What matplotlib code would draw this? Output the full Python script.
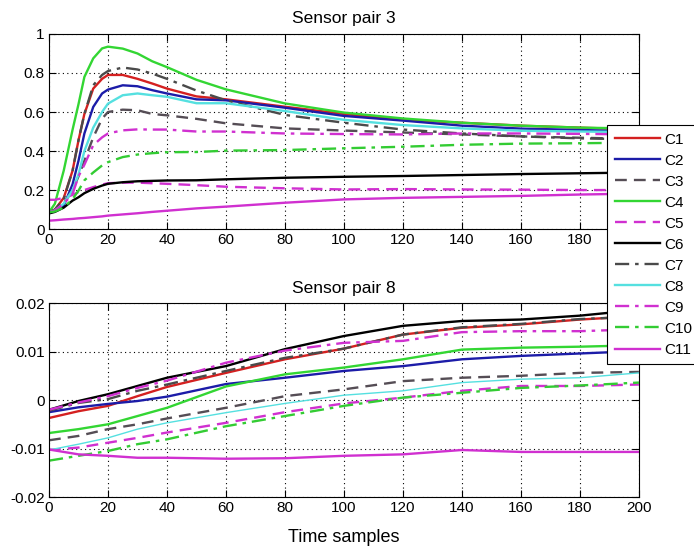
import matplotlib.pyplot as plt
from matplotlib.ticker import FuncFormatter

plt.rcParams['font.family'] = ['Liberation Sans', 'DejaVu Sans']

labels = ['C1', 'C2', 'C3', 'C4', 'C5', 'C6', 'C7', 'C8', 'C9', 'C10', 'C11']

# Sensor pair 3 (top)
tx = [0, 2, 5, 8, 10, 12, 15, 18, 20, 25, 30, 35, 40, 50, 60, 80, 100, 120, 140, 160, 180, 200]
p3_c1 = [0.086, 0.10, 0.16, 0.30, 0.455, 0.59, 0.72, 0.77, 0.79, 0.79, 0.77, 0.746, 0.72, 0.68, 0.665, 0.627, 0.59, 0.56, 0.545, 0.53, 0.52, 0.51]
p3_c2 = [0.086, 0.095, 0.12, 0.23, 0.35, 0.49, 0.626, 0.695, 0.715, 0.737, 0.732, 0.712, 0.695, 0.665, 0.66, 0.622, 0.58, 0.556, 0.53, 0.515, 0.508, 0.50]
p3_c3 = [0.086, 0.095, 0.13, 0.20, 0.27, 0.35, 0.47, 0.566, 0.60, 0.612, 0.609, 0.59, 0.583, 0.565, 0.542, 0.516, 0.505, 0.495, 0.485, 0.475, 0.468, 0.462]
p3_c4 = [0.086, 0.13, 0.30, 0.51, 0.64, 0.78, 0.875, 0.926, 0.935, 0.925, 0.90, 0.86, 0.83, 0.765, 0.716, 0.644, 0.597, 0.567, 0.545, 0.53, 0.52, 0.515]
p3_c5 = [0.15, 0.15, 0.16, 0.175, 0.19, 0.20, 0.215, 0.228, 0.235, 0.238, 0.238, 0.235, 0.232, 0.225, 0.217, 0.209, 0.203, 0.205, 0.203, 0.202, 0.20, 0.20]
p3_c6 = [0.08, 0.088, 0.11, 0.146, 0.163, 0.184, 0.206, 0.223, 0.232, 0.24, 0.245, 0.247, 0.249, 0.25, 0.255, 0.263, 0.268, 0.272, 0.277, 0.282, 0.286, 0.29]
p3_c7 = [0.086, 0.10, 0.154, 0.30, 0.455, 0.59, 0.737, 0.79, 0.81, 0.828, 0.818, 0.797, 0.77, 0.71, 0.66, 0.585, 0.545, 0.51, 0.49, 0.475, 0.465, 0.46]
p3_c8 = [0.086, 0.095, 0.13, 0.20, 0.28, 0.40, 0.52, 0.60, 0.643, 0.686, 0.695, 0.686, 0.678, 0.645, 0.645, 0.605, 0.56, 0.533, 0.516, 0.504, 0.50, 0.497]
p3_c9 = [0.086, 0.095, 0.13, 0.18, 0.27, 0.33, 0.43, 0.47, 0.49, 0.506, 0.511, 0.51, 0.51, 0.50, 0.50, 0.49, 0.487, 0.485, 0.49, 0.49, 0.488, 0.485]
p3_c10 = [0.086, 0.09, 0.11, 0.154, 0.197, 0.25, 0.29, 0.326, 0.343, 0.369, 0.382, 0.389, 0.394, 0.395, 0.402, 0.405, 0.414, 0.422, 0.432, 0.438, 0.44, 0.443]
p3_c11 = [0.043, 0.045, 0.049, 0.052, 0.055, 0.057, 0.061, 0.065, 0.069, 0.075, 0.081, 0.088, 0.094, 0.106, 0.115, 0.135, 0.152, 0.16, 0.165, 0.17, 0.177, 0.182]

# Sensor pair 8 (bottom)
bx = [0, 10, 20, 30, 40, 60, 80, 100, 120, 140, 160, 180, 200]
p8_c1 = [-0.0037, -0.0023, -0.0012, 0.0008, 0.0027, 0.0056, 0.0084, 0.0106, 0.0135, 0.0149, 0.0156, 0.0166, 0.0173]
p8_c2 = [-0.0025, -0.0015, -0.0008, -0.0002, 0.0007, 0.0033, 0.0046, 0.006, 0.007, 0.0084, 0.0091, 0.0096, 0.0101]
p8_c3 = [-0.0083, -0.0074, -0.006, -0.005, -0.0038, -0.0016, 0.0008, 0.0022, 0.0039, 0.0046, 0.005, 0.0056, 0.0058]
p8_c4 = [-0.0068, -0.006, -0.005, -0.0033, -0.0016, 0.0028, 0.0053, 0.0067, 0.0084, 0.0104, 0.0108, 0.011, 0.0113]
p8_c5 = [-0.0103, -0.0098, -0.0088, -0.0078, -0.0067, -0.0047, -0.0025, -0.0007, 0.0005, 0.0019, 0.0029, 0.0029, 0.0032]
p8_c6 = [-0.002, -0.0002, 0.0012, 0.0029, 0.0046, 0.007, 0.0105, 0.0132, 0.0153, 0.0163, 0.0166, 0.0174, 0.0186]
p8_c7 = [-0.0022, -0.0006, 0.0002, 0.0019, 0.0032, 0.006, 0.0087, 0.0106, 0.0135, 0.015, 0.0157, 0.0167, 0.0172]
p8_c8 = [-0.0103, -0.0091, -0.0078, -0.006, -0.0047, -0.0026, -0.0007, 0.001, 0.0019, 0.0036, 0.0043, 0.0046, 0.0056]
p8_c9 = [-0.002, -0.0005, 0.0008, 0.0025, 0.004, 0.0077, 0.0102, 0.0118, 0.0122, 0.014, 0.0142, 0.0142, 0.0146]
p8_c10 = [-0.0125, -0.0115, -0.0105, -0.0091, -0.0081, -0.0054, -0.0033, -0.0012, 0.0005, 0.0015, 0.0025, 0.003, 0.0036]
p8_c11 = [-0.0102, -0.0112, -0.0115, -0.0119, -0.0119, -0.0121, -0.012, -0.0115, -0.0112, -0.0103, -0.0107, -0.0107, -0.0107]

top_series = [p3_c1, p3_c2, p3_c3, p3_c4, p3_c5, p3_c6, p3_c7, p3_c8, p3_c9, p3_c10, p3_c11]
bot_series = [p8_c1, p8_c2, p8_c3, p8_c4, p8_c5, p8_c6, p8_c7, p8_c8, p8_c9, p8_c10, p8_c11]

dash = (0, (5, 3))
dashdot = (0, (6, 2.5, 1.5, 2.5))
colors = ['#d42020', '#1c1ca8', '#554d55', '#33d633', '#d030d0', '#000000',
          '#4a4a4a', '#55e0e0', '#d030d0', '#33cc33', '#d030d0']
styles = ['-', '-', dash, '-', dash, '-', dashdot, '-', dashdot, dashdot, '-']

fig = plt.figure(figsize=(6.94, 5.48), dpi=100)
ax1 = fig.add_axes([0.0706, 0.582, 0.850, 0.356])
ax2 = fig.add_axes([0.0706, 0.093, 0.850, 0.354])

handles = []
for i in range(11):
    h, = ax1.plot(tx, top_series[i], color=colors[i], linestyle=styles[i], lw=1.7)
    handles.append(h)
    lw = 1.0 if labels[i] == 'C8' else 1.7
    ax2.plot(bx, bot_series[i], color=colors[i], linestyle=styles[i], lw=lw)

fmt = FuncFormatter(lambda v, p: '%g' % round(v, 4))
for ax in (ax1, ax2):
    ax.set_xlim(0, 200)
    ax.set_xticks(range(0, 201, 20))
    ax.grid(True, linestyle=(0, (1, 3)), color='black', lw=0.8)
    ax.tick_params(direction='in', top=True, right=True, length=5, labelsize=11, pad=3)
    ax.yaxis.set_major_formatter(fmt)
    for s in ax.spines.values():
        s.set_linewidth(0.8)

ax1.set_ylim(0, 1)
ax1.set_yticks([0, 0.2, 0.4, 0.6, 0.8, 1])
ax1.set_title('Sensor pair 3', fontsize=12.5, pad=8)

ax2.set_ylim(-0.02, 0.02)
ax2.set_yticks([-0.02, -0.01, 0, 0.01, 0.02])
ax2.set_title('Sensor pair 8', fontsize=12.5, pad=7)
ax2.set_xlabel('Time samples', fontsize=13, labelpad=10)

leg = fig.legend(handles, labels, loc='upper left', bbox_to_anchor=(0.8746, 0.772),
                 borderaxespad=0, fontsize=11, labelspacing=0.46, handlelength=3.0,
                 handletextpad=0.26, borderpad=0.5, fancybox=False, framealpha=1,
                 edgecolor='black')
leg.get_frame().set_linewidth(0.8)

fig.savefig('out.png', dpi=100)
